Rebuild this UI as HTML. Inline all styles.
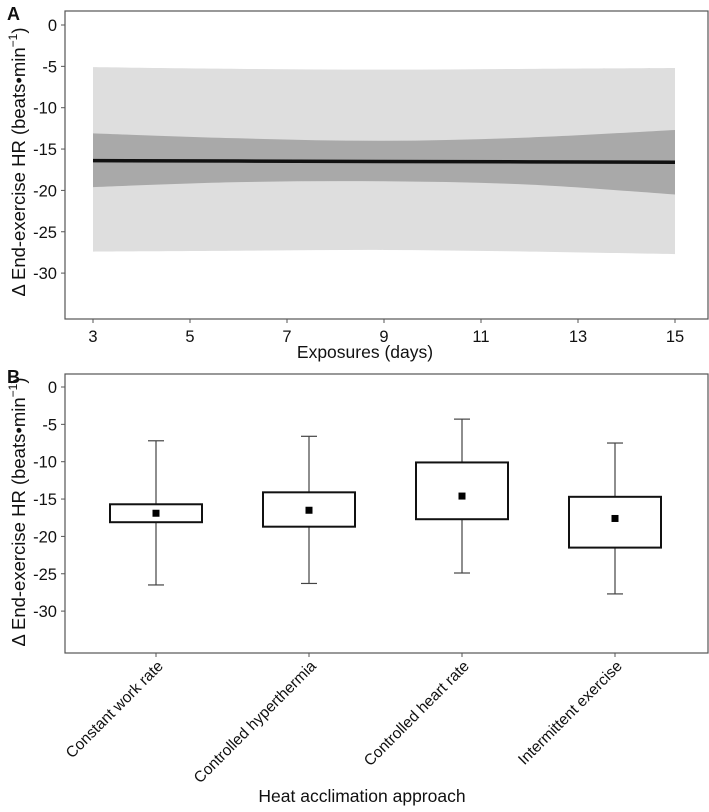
<!DOCTYPE html>
<html><head><meta charset="utf-8"><style>
body{margin:0;background:#fff}
text{font-family:"Liberation Sans",Arial,sans-serif;fill:#111}
</style></head><body>
<svg id="chart" width="709" height="807" xmlns="http://www.w3.org/2000/svg"></svg>
<script>
// Panel A data
const days=[3,6,9,12,15];
const outerUpper=[-5.1,-5.3,-5.4,-5.3,-5.2];
const outerLower=[-27.4,-27.3,-27.2,-27.4,-27.7];
const innerUpper=[-13.1,-13.7,-14.0,-13.6,-12.7];
const innerLower=[-19.6,-19.0,-18.9,-19.3,-20.5];
const lineVals=[-16.4,-16.45,-16.5,-16.55,-16.6];
const xTicksA=[3,5,7,9,11,13,15];
const yTicks=[0,-5,-10,-15,-20,-25,-30];
// Panel B data
const categories=["Constant work rate","Controlled hyperthermia","Controlled heart rate","Intermittent exercise"];
const boxTop=[-15.7,-14.1,-10.1,-14.7];
const boxBottom=[-18.1,-18.7,-17.7,-21.5];
const means=[-16.9,-16.5,-14.6,-17.6];
const whiskerHigh=[-7.2,-6.6,-4.3,-7.5];
const whiskerLow=[-26.5,-26.3,-24.9,-27.7];

const svg=document.getElementById('chart');
const NS='http://www.w3.org/2000/svg';
function mk(tag,attrs,parent){const e=document.createElementNS(NS,tag);for(const k in attrs)e.setAttribute(k,attrs[k]);(parent||svg).appendChild(e);return e;}

const axL=65,axR=708,axT=11,axB=319;
const xA=d=>93+(d-3)*48.5;
const yA=v=>25-v*8.27;
const bxT=374,bxB=653;
const yB=v=>387-v*7.47;
const xB=i=>156+i*153;

function smooth(pts){
  let d='M'+pts[0][0]+','+pts[0][1];
  for(let i=0;i<pts.length-1;i++){
    const p0=pts[i-1]||pts[i],p1=pts[i],p2=pts[i+1],p3=pts[i+2]||p2;
    const c1=[p1[0]+(p2[0]-p0[0])/6,p1[1]+(p2[1]-p0[1])/6];
    const c2=[p2[0]-(p3[0]-p1[0])/6,p2[1]-(p3[1]-p1[1])/6];
    d+=` C${c1[0]},${c1[1]} ${c2[0]},${c2[1]} ${p2[0]},${p2[1]}`;
  }
  return d;
}
function band(up,lo,fill,name){
  const u=days.map((d,i)=>[xA(d),yA(up[i])]);
  const l=days.map((d,i)=>[xA(d),yA(lo[i])]).reverse();
  const d=smooth(u)+' L'+smooth(l).slice(1)+' Z';
  const p=mk('path',{d:d,fill:fill});
  
  
}
band(outerUpper,outerLower,'#dedede','prediction-interval-band');
band(innerUpper,innerLower,'#a9a9a9','confidence-interval-band');
const ln=mk('path',{d:smooth(days.map((d,i)=>[xA(d),yA(lineVals[i])])),fill:'none',stroke:'#111','stroke-width':3.5});



const frA=mk('rect',{x:axL,y:axT,width:axR-axL,height:axB-axT,fill:'none',stroke:'#555','stroke-width':1.2});


yTicks.forEach(v=>{
  mk('line',{x1:axL-4,x2:axL,y1:yA(v),y2:yA(v),stroke:'#555'});
  const t=mk('text',{x:axL-8,y:yA(v)+6,'text-anchor':'end','font-size':16.5});t.textContent=v;
  
  
});
xTicksA.forEach(d=>{
  mk('line',{x1:xA(d),x2:xA(d),y1:axB,y2:axB+4,stroke:'#555'});
  const t=mk('text',{x:xA(d),y:axB+23,'text-anchor':'middle','font-size':16.5});t.textContent=d;
  
  
});
function ytitle(cy,name){
  const t=mk('text',{x:0,y:0,transform:`translate(25,${cy}) rotate(-90)`,'text-anchor':'middle','font-size':18.5});
  t.innerHTML='Δ End-exercise HR  (beats•min<tspan dy="-8" font-size="12">−1</tspan><tspan dy="8">)</tspan>';
  
  
}
ytitle(162,'y-axis-title-a');
let t=mk('text',{x:365,y:358,'text-anchor':'middle','font-size':17.5});t.textContent='Exposures (days)';


t=mk('text',{x:7,y:20,'font-size':18,'font-weight':'bold'});t.textContent='A';



const frB=mk('rect',{x:axL,y:bxT,width:axR-axL,height:bxB-bxT,fill:'none',stroke:'#555','stroke-width':1.2});


yTicks.forEach(v=>{
  mk('line',{x1:axL-4,x2:axL,y1:yB(v),y2:yB(v),stroke:'#555'});
  const t=mk('text',{x:axL-8,y:yB(v)+6,'text-anchor':'end','font-size':16.5});t.textContent=v;
  
  
});
categories.forEach((c,i)=>{
  const x=xB(i),hw=46;
  const w=mk('line',{x1:x,x2:x,y1:yB(whiskerHigh[i]),y2:yB(whiskerLow[i]),stroke:'#444','stroke-width':1.2});
  
  
  [whiskerHigh[i],whiskerLow[i]].forEach(v=>mk('line',{x1:x-8,x2:x+8,y1:yB(v),y2:yB(v),stroke:'#444','stroke-width':1.2}));
  const b=mk('rect',{x:x-hw,y:yB(boxTop[i]),width:hw*2,height:yB(boxBottom[i])-yB(boxTop[i]),fill:'#fff',stroke:'#111','stroke-width':2});
  
  
  const m=mk('rect',{x:x-3.5,y:yB(means[i])-3.5,width:7,height:7,fill:'#000'});
  
  
  mk('line',{x1:x,x2:x,y1:bxB,y2:bxB+4,stroke:'#555'});
  const l=mk('text',{x:0,y:0,transform:`translate(${x+8},${bxB+14}) rotate(-45)`,'text-anchor':'end','font-size':15.5});l.textContent=c;
  
  
});
ytitle(512,'y-axis-title-b');
t=mk('text',{x:362,y:802,'text-anchor':'middle','font-size':17.5});t.textContent='Heat acclimation approach';


t=mk('text',{x:7,y:383,'font-size':18,'font-weight':'bold'});t.textContent='B';


</script>
</body></html>
